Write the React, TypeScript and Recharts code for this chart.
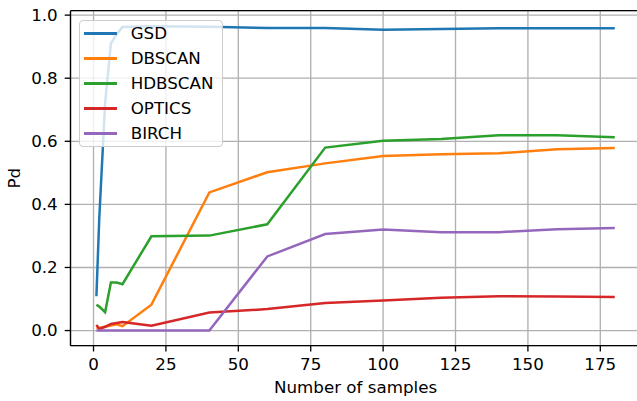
import { LineChart, Line, XAxis, YAxis, CartesianGrid, ReferenceLine, Label } from 'recharts'

const samples = [1, 2, 4, 6, 8, 10, 20, 40, 60, 80, 100, 120, 140, 160, 180]
const gsd = [0.109, 0.36, 0.72, 0.91, 0.94, 0.962, 0.965, 0.963, 0.959, 0.959, 0.954, 0.956, 0.958, 0.958, 0.958]
const dbscan = [0.01, 0.008, 0.012, 0.016, 0.02, 0.014, 0.082, 0.438, 0.502, 0.53, 0.553, 0.559, 0.562, 0.575, 0.579]
const hdbscan = [0.082, 0.076, 0.058, 0.152, 0.152, 0.147, 0.299, 0.301, 0.337, 0.58, 0.602, 0.607, 0.619, 0.619, 0.613]
const optics = [0.018, 0.005, 0.012, 0.021, 0.024, 0.027, 0.015, 0.057, 0.068, 0.087, 0.095, 0.104, 0.109, 0.108, 0.106]
const birch = [0, 0, 0, 0, 0, 0, 0, 0, 0.235, 0.306, 0.32, 0.312, 0.312, 0.321, 0.325]

const xTicks = [0, 25, 50, 75, 100, 125, 150, 175]
const yTicks = [0, 0.2, 0.4, 0.6, 0.8, 1.0]

const series = [
  { key: 'GSD', values: gsd, color: '#1f77b4' },
  { key: 'DBSCAN', values: dbscan, color: '#ff7f0e' },
  { key: 'HDBSCAN', values: hdbscan, color: '#2ca02c' },
  { key: 'OPTICS', values: optics, color: '#d62728' },
  { key: 'BIRCH', values: birch, color: '#9467bd' },
]

const data = samples.map((n, i) => {
  const row: Record<string, number> = { n }
  series.forEach(s => { row[s.key] = s.values[i] })
  return row
})

const FONT = '"DejaVu Sans", sans-serif'
const FS = 16.7
const X_DOMAIN: [number, number] = [-7.95, 188.95]
const Y_DOMAIN: [number, number] = [-0.048, 1.014]

// matplotlib-style legend box, drawn over the plot
function LegendBox() {
  return (
    <div style={{
      position: 'absolute', left: 79, top: 20,
      boxSizing: 'border-box', width: 144, height: 127,
      border: '1px solid #cccccc', borderRadius: 4,
      background: 'rgba(255,255,255,0.8)', fontFamily: FONT, fontSize: FS,
    }}>
      {series.map(s => (
        <div key={s.key} style={{ display: 'flex', alignItems: 'center', height: 25 }}>
          <div style={{ width: 33.4, height: 2.5, background: s.color, marginLeft: 4, marginRight: 13.3 }} />
          <span style={{ color: '#000', lineHeight: '25px' }}>{s.key}</span>
        </div>
      ))}
    </div>
  )
}

export default function App() {
  const tick = { fontFamily: FONT, fontSize: FS, fill: '#000' }
  const tickLine = { stroke: '#000', strokeWidth: 1.33 }
  const axisLine = { stroke: '#000', strokeWidth: 1.33 }
  return (
    <div style={{ position: 'fixed', left: 0, top: 0, width: 637, height: 401, overflow: 'hidden', background: '#fff' }}>
      <LineChart width={645} height={401} data={data} margin={{ top: 10.7, right: 4.3, bottom: 25.3, left: 10.5 }}>
        <CartesianGrid stroke="#b0b0b0" strokeWidth={1.33} />
        <XAxis
          dataKey="n" type="number" domain={X_DOMAIN} ticks={xTicks} allowDataOverflow
          height={30} tickSize={5.8} tickMargin={7} tick={tick} tickLine={tickLine}
          axisLine={axisLine} interval={0}
        >
          <Label content={({ viewBox }: any) => (
            <text x={viewBox.x + viewBox.width / 2} y={393.3} textAnchor="middle" fontFamily={FONT} fontSize={FS} fill="#000">
              Number of samples
            </text>
          )} />
        </XAxis>
        <YAxis
          type="number" domain={Y_DOMAIN} ticks={yTicks} allowDataOverflow
          width={60} tickSize={5.8} tickMargin={7} tick={tick} tickLine={tickLine}
          axisLine={axisLine} interval={0} tickFormatter={(v: number) => v.toFixed(1)}
        >
          <Label content={({ viewBox }: any) => {
            const cy = viewBox.y + viewBox.height / 2
            return (
              <text x={20.5} y={cy} transform={`rotate(-90, 20.5, ${cy})`} textAnchor="middle" fontFamily={FONT} fontSize={FS} fill="#000">
                Pd
              </text>
            )
          }} />
        </YAxis>
        {series.map(s => (
          <Line
            key={s.key} dataKey={s.key} type="linear" stroke={s.color} strokeWidth={2.5}
            dot={false} activeDot={false} isAnimationActive={false}
          />
        ))}
        <ReferenceLine y={Y_DOMAIN[1]} stroke="#000" strokeWidth={1.33} ifOverflow="visible" />
      </LineChart>
      <LegendBox />
    </div>
  )
}
